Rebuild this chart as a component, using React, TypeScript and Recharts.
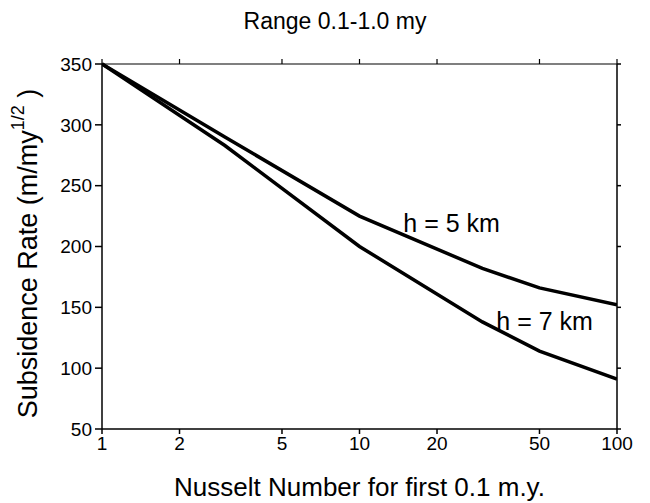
import { LineChart, Line, XAxis, YAxis, ReferenceDot } from 'recharts'

const nusselt = [1, 3, 10, 30, 50, 100]
const rateH5 = [350, 290, 225, 182, 166, 152]
const rateH7 = [350, 283, 200, 138, 114, 91]
const xTicks = [1, 2, 5, 10, 20, 50, 100]
const yTicks = [50, 100, 150, 200, 250, 300, 350]

const data = nusselt.map((n, i) => ({ n, h5: rateH5[i], h7: rateH7[i] }))

const font = '"Liberation Sans", Arial, sans-serif'

const YTitle = (props: any) => {
  const { viewBox } = props
  const cx = 28
  const cy = viewBox.y + viewBox.height / 2 + 7
  return (
    <text
      x={cx}
      y={cy}
      transform={`rotate(-90, ${cx}, ${cy})`}
      textAnchor='middle'
      dominantBaseline='central'
      fontSize={27}
      fontFamily={font}
      fill='#000'
    >
      Subsidence Rate (m/my
      <tspan dy={-10} fontSize={18}>1/2</tspan>
      <tspan dy={10}> )</tspan>
    </text>
  )
}

export default function App() {
  return (
    <div style={{ position: 'absolute', left: 0, top: 0, width: 650, height: 503, background: '#fff' }}>
      <div
        style={{
          position: 'absolute',
          top: 8,
          left: 0,
          width: 670,
          textAlign: 'center',
          fontFamily: font,
          fontSize: 23,
        }}
      >
        Range 0.1-1.0 my
      </div>
      <LineChart width={650} height={503} data={data} margin={{ top: 63, right: 32, left: 0, bottom: 0 }}>
        <XAxis
          dataKey='n'
          type='number'
          scale='log'
          domain={[1, 100]}
          ticks={xTicks}
          allowDataOverflow
          height={74}
          stroke='#000'
          strokeWidth={1.5}
          tickSize={5}
          tick={{ fill: '#000', fontSize: 19, fontFamily: font, dy: 1 }}
          label={{
            value: 'Nusselt Number for first 0.1 m.y.',
            position: 'insideBottom',
            offset: 7,
            fill: '#000',
            fontSize: 26,
            fontFamily: font,
          }}
        />
        <XAxis
          xAxisId='top'
          dataKey='n'
          type='number'
          scale='log'
          domain={[1, 100]}
          ticks={xTicks}
          allowDataOverflow
          orientation='top'
          height={1}
          stroke='#000'
          strokeWidth={1.2}
          tickSize={5}
          tickFormatter={() => ''}
        />
        <YAxis
          domain={[50, 350]}
          ticks={yTicks}
          width={102}
          stroke='#000'
          strokeWidth={1.5}
          tickSize={7}
          tickMargin={3}
          tick={{ fill: '#000', fontSize: 19, fontFamily: font }}
          label={{ content: YTitle }}
        />
        <YAxis
          yAxisId='right'
          orientation='right'
          domain={[50, 350]}
          ticks={yTicks}
          width={1}
          stroke='#000'
          strokeWidth={1.5}
          tickSize={4}
          tickFormatter={() => ''}
        />
        <Line dataKey='h5' type='linear' stroke='#000' strokeWidth={3.5} dot={false} isAnimationActive={false} />
        <Line
          dataKey='h7'
          xAxisId='top'
          yAxisId='right'
          type='linear'
          stroke='#000'
          strokeWidth={3.5}
          dot={false}
          isAnimationActive={false}
        />
        <ReferenceDot
          x={14.8}
          y={219}
          r={0}
          label={{ value: 'h = 5 km', position: 'right', offset: 0, fill: '#000', fontSize: 25, fontFamily: font }}
        />
        <ReferenceDot
          x={34}
          y={139}
          r={0}
          label={{ value: 'h = 7 km', position: 'right', offset: 0, fill: '#000', fontSize: 25, fontFamily: font }}
        />
      </LineChart>
    </div>
  )
}
